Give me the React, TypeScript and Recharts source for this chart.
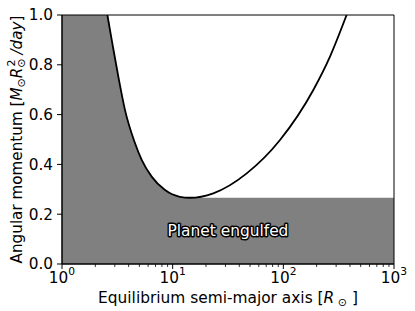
import React from 'react';
import { ComposedChart, Area, Line, XAxis, YAxis, ReferenceArea, ReferenceDot } from 'recharts';

// values
const semiMajorAxis = [1, 2.57, 2.85, 3.23, 3.71, 4.57, 5.25, 6.46, 8.53, 11.6, 14.3, 23.3, 46.7, 93.3, 186.6, 264, 373, 1000];
const momentumCurve = [null, 1.0, 0.886, 0.752, 0.618, 0.485, 0.418, 0.351, 0.297, 0.27, 0.266, 0.284, 0.364, 0.498, 0.699, 0.833, 1.0, null];
const engulfedLimit = [1.0, 1.0, 0.886, 0.752, 0.618, 0.485, 0.418, 0.351, 0.297, 0.27, 0.266, 0.266, 0.266, 0.266, 0.266, 0.266, 0.266, 0.266];

const xTicks = [1, 2, 3, 4, 5, 6, 7, 8, 9, 10, 20, 30, 40, 50, 60, 70, 80, 90, 100, 200, 300, 400, 500, 600, 700, 800, 900, 1000];
const yTicks = [0, 0.2, 0.4, 0.6, 0.8, 1.0];

const data = semiMajorAxis.map((a, i) => ({
  a,
  curve: momentumCurve[i],
  fill: engulfedLimit[i],
}));

const FONT = '"DejaVu Sans", sans-serif';

const LogTick = (props: any) => {
  const { x, y, payload } = props;
  const v = payload.value;
  const exp = Math.round(Math.log10(v));
  const major = Math.abs(Math.log10(v) - exp) < 1e-9;
  return (
    <g>
      <line x1={x} x2={x} y1={y} y2={y + (major ? 5 : 3)} stroke="#000" strokeWidth={major ? 1 : 0.8} />
      {major && (
        <text x={x} y={y + 18.5} textAnchor="middle" fontSize={15.3} fill="#000" fontFamily={FONT}>
          10<tspan fontSize={10.7} dy={-8}>{exp}</tspan>
        </text>
      )}
    </g>
  );
};

const XLabel = (props: any) => {
  const vb = props.viewBox;
  const cx = vb.x + vb.width / 2;
  return (
    <text x={cx} y={303} textAnchor="middle" fontSize={15.4} fill="#000" fontFamily={FONT}>
      Equilibrium semi-major axis [<tspan fontStyle="italic">R</tspan>
      <tspan fontSize={11} dy={3}> {'\u2299'}</tspan>
      <tspan dy={-3}> ]</tspan>
    </text>
  );
};

const YLabel = (props: any) => {
  const vb = props.viewBox;
  const cy = vb.y + vb.height / 2;
  const x = 22;
  return (
    <text
      x={x}
      y={cy}
      transform={`rotate(-90, ${x}, ${cy})`}
      textAnchor="middle"
      fontSize={15.2}
      fill="#000"
      fontFamily={FONT}
    >
      Angular momentum [<tspan fontStyle="italic">M</tspan>
      <tspan fontSize={11} dy={3}>{'\u2299'}</tspan>
      <tspan fontStyle="italic" dy={-3}>R</tspan>
      <tspan fontSize={11} dy={3}>{'\u2299'}</tspan>
      <tspan fontSize={11} dx={-8} dy={-10}>2</tspan>
      <tspan fontStyle="italic" dy={7}> /day</tspan>
      <tspan>]</tspan>
    </text>
  );
};

const EngulfedText = (props: any) => (
  <text
    x={props.cx}
    y={props.cy}
    textAnchor="middle"
    fontSize={15.4}
    fill="#fff"
    stroke="#000"
    strokeWidth={3}
    paintOrder="stroke"
    strokeLinejoin="round"
    fontFamily={FONT}
  >
    Planet engulfed
  </text>
);

export default function App() {
  return (
    <div style={{ position: 'absolute', left: 0, top: 0, width: 415, height: 311, background: '#fff' }}>
      <ComposedChart
        width={415}
        height={311}
        data={data}
        margin={{ top: 15, right: 21, left: 0, bottom: 0 }}
        style={{ fontFamily: FONT }}
      >
        <XAxis
          dataKey="a"
          type="number"
          scale="log"
          domain={[1, 1000]}
          ticks={xTicks}
          interval={0}
          allowDataOverflow
          height={47}
          tickSize={0}
          tickMargin={0}
          tickLine={false}
          tick={<LogTick />}
          axisLine={{ stroke: '#000', strokeWidth: 1 }}
          label={{ content: <XLabel /> }}
        />
        <YAxis
          type="number"
          domain={[0, 1]}
          ticks={yTicks}
          allowDataOverflow
          width={62}
          tickSize={5}
          tickMargin={4}
          tickFormatter={(v: number) => v.toFixed(1)}
          tick={{ fill: '#000', fontSize: 15.3, fontFamily: FONT }}
          tickLine={{ stroke: '#000', strokeWidth: 1 }}
          axisLine={{ stroke: '#000', strokeWidth: 1 }}
          label={{ content: <YLabel /> }}
        />
        <Area
          dataKey="fill"
          type="monotone"
          stroke="none"
          fill="#808080"
          fillOpacity={1}
          isAnimationActive={false}
        />
        <Line
          dataKey="curve"
          type="monotone"
          stroke="#000"
          strokeWidth={1.8}
          dot={false}
          isAnimationActive={false}
        />
        <ReferenceDot x={31.6} y={0.112} r={0} shape={<EngulfedText />} />
        <ReferenceArea x1={1} x2={1000} y1={0} y2={1} fill="none" stroke="#000" strokeWidth={1} />
      </ComposedChart>
    </div>
  );
}
